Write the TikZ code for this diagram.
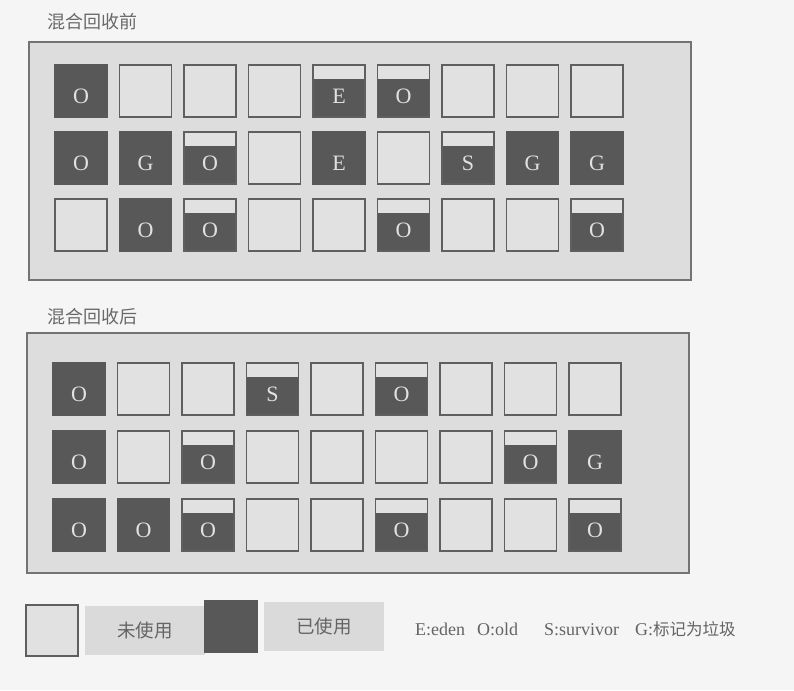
\documentclass[tikz,border=0pt]{standalone}
\usepackage{fontspec}
\setmainfont{Liberation Serif}
\newfontfamily\cjk{Noto Sans CJK SC}
\definecolor{pagebg}{RGB}{245,245,245}
\definecolor{panelgray}{RGB}{221,221,221}
\definecolor{panelline}{RGB}{115,115,115}
\definecolor{freegray}{RGB}{225,225,225}
\definecolor{usedgray}{RGB}{88,88,88}
\definecolor{cellline}{RGB}{95,95,95}
\definecolor{lettergray}{RGB}{225,225,225}
\definecolor{taggray}{RGB}{218,218,218}
\definecolor{inkgray}{RGB}{100,100,100}
\definecolor{titlegray}{RGB}{105,105,105}

\begin{document}
\begin{tikzpicture}[x=1pt,y=-1pt]
        \tikzstyle{panelbox}=[draw=panelline,line width=1.5pt,fill=panelgray]
        \tikzstyle{cell}=[rectangle,minimum size=52pt,inner sep=0pt,line width=1.8pt,text height=24.5pt,text depth=0pt,text=lettergray,font=\fontsize{22}{22}\selectfont]
        \tikzstyle{freecell}=[cell,draw=cellline,fill=freegray]
        \tikzstyle{usedcell}=[cell,draw=usedgray,fill=usedgray]
        \tikzstyle{halfcell}=[cell,draw=cellline,fill=usedgray,path picture={\fill[freegray] (path picture bounding box.north west) rectangle ([yshift=-14pt]path picture bounding box.north east);}]
        \tikzstyle{title}=[anchor=base west,inner sep=0pt,text=titlegray,font=\cjk\fontsize{18}{18}\selectfont]
        \tikzstyle{tagbox}=[rectangle,fill=taggray,minimum width=120pt,minimum height=49pt,inner sep=0pt,text=inkgray,font=\cjk\fontsize{18.5}{18.5}\selectfont]
        \tikzstyle{keytext}=[anchor=base west,inner sep=0pt,text=inkgray,font=\fontsize{18}{18}\selectfont]

        \fill[pagebg] (0,0) rectangle (794,690);
        \useasboundingbox (0,0) rectangle (794,690);

        % before mixed gc
        \node[title] (pre) at (47,28.5) {混合回收前};
        \draw[panelbox] (29,42) rectangle (691,280);
        \begin{scope}[shift={(81,91)},x=64.5pt,y=-67pt]
            \node[usedcell] (b11) at (0,0) {O};
            \node[freecell] (b12) at (1,0) {};
            \node[freecell] (b13) at (2,0) {};
            \node[freecell] (b14) at (3,0) {};
            \node[halfcell] (b15) at (4,0) {E};
            \node[halfcell] (b16) at (5,0) {O};
            \node[freecell] (b17) at (6,0) {};
            \node[freecell] (b18) at (7,0) {};
            \node[freecell] (b19) at (8,0) {};

            \node[usedcell] (b21) at (0,1) {O};
            \node[usedcell] (b22) at (1,1) {G};
            \node[halfcell] (b23) at (2,1) {O};
            \node[freecell] (b24) at (3,1) {};
            \node[usedcell] (b25) at (4,1) {E};
            \node[freecell] (b26) at (5,1) {};
            \node[halfcell] (b27) at (6,1) {S};
            \node[usedcell] (b28) at (7,1) {G};
            \node[usedcell] (b29) at (8,1) {G};

            \node[freecell] (b31) at (0,2) {};
            \node[usedcell] (b32) at (1,2) {O};
            \node[halfcell] (b33) at (2,2) {O};
            \node[freecell] (b34) at (3,2) {};
            \node[freecell] (b35) at (4,2) {};
            \node[halfcell] (b36) at (5,2) {O};
            \node[freecell] (b37) at (6,2) {};
            \node[freecell] (b38) at (7,2) {};
            \node[halfcell] (b39) at (8,2) {O};
        \end{scope}

        % after mixed gc
        \node[title] (post) at (47,323) {混合回收后};
        \draw[panelbox] (27,333) rectangle (689,573);
        \begin{scope}[shift={(79,389)},x=64.5pt,y=-68pt]
            \node[usedcell] (a11) at (0,0) {O};
            \node[freecell] (a12) at (1,0) {};
            \node[freecell] (a13) at (2,0) {};
            \node[halfcell] (a14) at (3,0) {S};
            \node[freecell] (a15) at (4,0) {};
            \node[halfcell] (a16) at (5,0) {O};
            \node[freecell] (a17) at (6,0) {};
            \node[freecell] (a18) at (7,0) {};
            \node[freecell] (a19) at (8,0) {};

            \node[usedcell] (a21) at (0,1) {O};
            \node[freecell] (a22) at (1,1) {};
            \node[halfcell] (a23) at (2,1) {O};
            \node[freecell] (a24) at (3,1) {};
            \node[freecell] (a25) at (4,1) {};
            \node[freecell] (a26) at (5,1) {};
            \node[freecell] (a27) at (6,1) {};
            \node[halfcell] (a28) at (7,1) {O};
            \node[usedcell] (a29) at (8,1) {G};

            \node[usedcell] (a31) at (0,2) {O};
            \node[usedcell] (a32) at (1,2) {O};
            \node[halfcell] (a33) at (2,2) {O};
            \node[freecell] (a34) at (3,2) {};
            \node[freecell] (a35) at (4,2) {};
            \node[halfcell] (a36) at (5,2) {O};
            \node[freecell] (a37) at (6,2) {};
            \node[freecell] (a38) at (7,2) {};
            \node[halfcell] (a39) at (8,2) {O};
        \end{scope}

        % legend
        \node[freecell,minimum height=51pt] (kfree) at (52,630.5) {};
        \node[tagbox] (tfree) at (145,630.5) {未使用};
        \node[usedcell,minimum height=51pt] (kused) at (231,626.5) {};
        \node[tagbox] (tused) at (324,626.5) {已使用};
        \node[keytext] (keye) at (415,635) {E:eden};
        \node[keytext] (keyo) at (477,635) {O:old};
        \node[keytext] (keys) at (544,635) {S:survivor};
        \node[keytext] (keyg) at (635,635) {G:{\cjk\fontsize{16.5}{16.5}\selectfont 标记为垃圾}};
\end{tikzpicture}
\end{document}
